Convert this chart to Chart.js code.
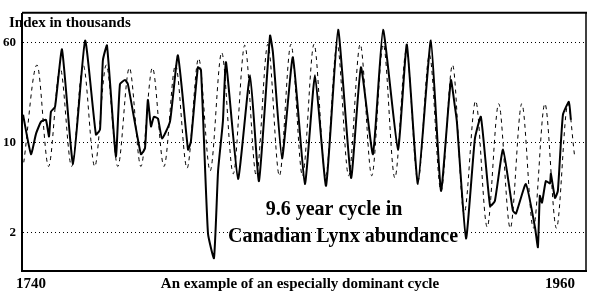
<!DOCTYPE html>
<html><head><meta charset="utf-8">
<script src="https://cdn.jsdelivr.net/npm/chart.js@4"></script>
<style>html,body{margin:0;padding:0;background:#fff}canvas{display:block}</style>
</head><body>
<canvas id="c" width="600" height="300"></canvas>
<script>
// Lynx abundance index (thousands)
const lynxYears = [1736.7,1740,1742.1,1744.2,1746.2,1747.5,1748.3,1750,1752.9,1757.5,1762.5,1767,1768.7,1769.9,1771.6,1775.3,1777,1779.1,1780.3,1785.7,1787.4,1788.6,1789.9,1791.1,1792.8,1794.5,1797.8,1801.1,1805.3,1806.5,1809.4,1810.7,1813.6,1816.1,1817.8,1819.8,1821.1,1826.1,1831.1,1834.8,1839.4,1840.6,1844.4,1848.9,1853.9,1858.1,1862.7,1867.7,1873.1,1877.2,1882.2,1886.4,1892.6,1896.3,1900.9,1906.3,1910.5,1914.6,1916.3,1917.1,1920.9,1924.6,1927.1,1930.9,1932.9,1936.3,1940.4,1941.7,1945.8,1949.6,1950.8,1951.6,1952.5,1954.1,1955.8,1956.2,1957.9,1959.1,1961.2,1963.7,1964.5];
const lynxValues = [16.4,8.1,11.7,14.5,15.0,11.1,17.3,18.9,52.8,6.8,62,11.5,12.6,43.5,56.7,7.8,28.4,30.5,28.4,8.1,9.0,21.4,13.3,15.8,15.3,10.7,14.5,47.5,8.8,10.2,38.4,36.4,1.96,1.26,6.0,14.5,42.0,5.2,33.3,5.0,67.7,50.1,7.5,45.9,4.75,33.3,4.6,75.3,5.3,38.4,8.1,75.3,8.8,57.7,4.75,62,4.2,30.5,18.9,14.5,1.79,10.7,15.8,3.2,3.5,8.8,2.95,2.8,4.75,2.18,1.53,3.84,3.4,5.0,4.8,5.7,3.7,4.2,16.4,20.7,15.0];

// 9.6 year cycle (dashed), turning points
const cycleYears = [1737.0,1742.5,1747.3,1752.1,1756.9,1761.7,1766.5,1771.3,1776.1,1780.9,1785.7,1790.5,1795.3,1800.1,1804.9,1809.7,1814.5,1819.3,1824.1,1828.9,1833.7,1838.5,1843.3,1848.1,1852.9,1857.7,1862.5,1867.3,1872.1,1876.9,1881.7,1886.5,1891.3,1896.1,1900.9,1905.7,1910.5,1915.3,1920.1,1924.9,1929.7,1934.5,1939.3,1944.1,1948.9,1953.7,1958.5,1963.3,1966.0];
const cycleValues = [7,40,6.5,38,6.5,40,6.5,40,6.5,38,6.5,38,6.5,40,6.3,45,6,50,5.7,57,5.5,58,5.5,58,5.5,58,5.5,58,5.5,58,5.5,58,5.3,52,5,48,4.2,40,2.8,21,2.2,20,2.15,20,2.15,20,2.15,20,8];

const xTicks = [1740, 1960];
const yTicks = [2, 10, 60];

const titleText = 'Index in thousands';
const footText = 'An example of an especially dominant cycle';
const note1 = '9.6 year cycle in';
const note2 = 'Canadian Lynx abundance';

const SERIF = '"Liberation Serif", "DejaVu Serif", serif';

const textPlugin = {
  id: 'texts',
  afterDraw(chart) {
    const {ctx, chartArea: a} = chart;
    ctx.save();
    ctx.strokeStyle = '#000';
    ctx.lineWidth = 2;
    ctx.beginPath(); ctx.moveTo(a.left, a.top - 1); ctx.lineTo(a.right + 1, a.top - 1); ctx.stroke();
    ctx.lineWidth = 1.5;
    ctx.beginPath(); ctx.moveTo(a.right, a.top - 1); ctx.lineTo(a.right, a.bottom); ctx.stroke();
    ctx.fillStyle = '#000';
    ctx.textBaseline = 'alphabetic';
    ctx.font = 'bold 15px ' + SERIF;
    ctx.textAlign = 'left';
    ctx.fillText(titleText, 9, 27);
    ctx.textAlign = 'center';
    ctx.fillText(footText, 300, 288);
    ctx.font = 'bold 20px ' + SERIF;
    ctx.fillText(note1, 334, 215);
    ctx.fillText(note2, 343, 242);
    ctx.restore();
  }
};

new Chart(document.getElementById('c'), {
  type: 'line',
  data: {
    datasets: [
      {
        label: 'Lynx',
        data: lynxYears.map((x, i) => ({x, y: lynxValues[i]})),
        borderColor: '#000', borderWidth: 2, pointRadius: 0, tension: 0.15, fill: false
      },
      {
        label: '9.6 year cycle',
        data: cycleYears.map((x, i) => ({x, y: cycleValues[i]})),
        borderColor: '#000', borderWidth: 1, borderDash: [4, 4], pointRadius: 0,
        cubicInterpolationMode: 'monotone', fill: false
      }
    ]
  },
  options: {
    responsive: false, animation: false, devicePixelRatio: 1,
    layout: {padding: {top: 11, right: 14, left: 0, bottom: 0}},
    plugins: {legend: {display: false}, tooltip: {enabled: false}},
    scales: {
      x: {
        type: 'linear', min: 1736.26, max: 1970.8,
        afterBuildTicks: s => { s.ticks = xTicks.map(v => ({value: v})); },
        afterFit: s => { s.height = 29; },
        grid: {display: false, drawTicks: false},
        border: {display: true, color: '#000', width: 2},
        ticks: {color: '#000', font: {family: SERIF, size: 15, weight: 'bold'}, padding: 4,
                maxRotation: 0, autoSkip: false, callback: v => String(v)}
      },
      y: {
        type: 'logarithmic', min: 1, max: 100,
        afterBuildTicks: s => { s.ticks = yTicks.map(v => ({value: v})); },
        afterFit: s => { s.width = 22; },
        grid: {color: '#000', lineWidth: 1, drawTicks: false},
        border: {display: true, color: '#000', width: 2, dash: [1, 3]},
        ticks: {color: '#000', font: {family: SERIF, size: 13, weight: 'bold'}, padding: 6,
                autoSkip: false, callback: v => String(v)}
      }
    }
  },
  plugins: [textPlugin]
});
</script>
</body></html>
